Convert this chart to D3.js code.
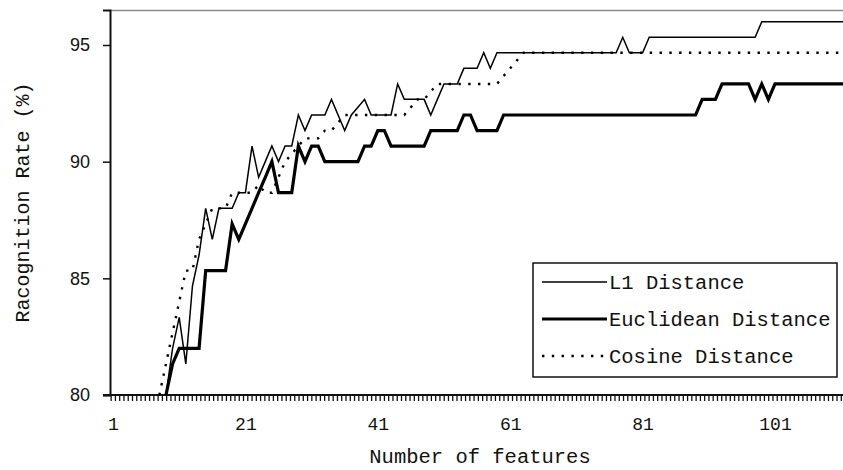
<!DOCTYPE html>
<html lang="en">
<head>
    <meta charset="utf-8">
    <title>Recognition rate vs number of features</title>
    <script type="text/javascript" src="https://d3js.org/d3.v7.min.js"></script>
    <style type="text/css">
        body { margin: 0; background: #fff; }
        .mono { font-family: "Liberation Mono", "DejaVu Sans Mono", monospace; }
    </style>
</head>
<body>
<script type="text/javascript">

    // categories: number of features
    var features = d3.range(8, 113);

    var l1Values = [
        null, 80.0, 82.0, 83.33, 81.33, 84.67, 86.0, 88.0, 86.67, 88.0,
        88.0, 88.0, 88.67, 88.67, 90.67, 89.33, 90.0, 90.67, 90.0, 90.67,
        90.67, 92.0, 91.33, 92.0, 92.0, 92.0, 92.67, 92.0, 91.33, 92.0,
        92.33, 92.67, 92.0, 92.0, 92.0, 92.0, 93.33, 92.67, 92.67, 92.67,
        92.67, 92.0, 92.67, 93.33, 93.33, 93.33, 94.0, 94.0, 94.0, 94.67,
        94.0, 94.67, 94.67, 94.67, 94.67, 94.67, 94.67, 94.67, 94.67, 94.67,
        94.67, 94.67, 94.67, 94.67, 94.67, 94.67, 94.67, 94.67, 94.67, 94.67,
        95.33, 94.67, 94.67, 94.67, 95.33, 95.33, 95.33, 95.33, 95.33, 95.33,
        95.33, 95.33, 95.33, 95.33, 95.33, 95.33, 95.33, 95.33, 95.33, 95.33,
        95.33, 96.0, 96.0, 96.0, 96.0, 96.0, 96.0, 96.0, 96.0, 96.0,
        96.0, 96.0, 96.0, 96.0, 96.0
    ];

    var euclideanValues = [
        null, 80.0, 81.33, 82.0, 82.0, 82.0, 82.0, 85.33, 85.33, 85.33,
        85.33, 87.33, 86.67, 87.33, 88.0, 88.67, 89.33, 90.0, 88.67, 88.67,
        88.67, 90.67, 90.0, 90.67, 90.67, 90.0, 90.0, 90.0, 90.0, 90.0,
        90.0, 90.67, 90.67, 91.33, 91.33, 90.67, 90.67, 90.67, 90.67, 90.67,
        90.67, 91.33, 91.33, 91.33, 91.33, 91.33, 92.0, 92.0, 91.33, 91.33,
        91.33, 91.33, 92.0, 92.0, 92.0, 92.0, 92.0, 92.0, 92.0, 92.0,
        92.0, 92.0, 92.0, 92.0, 92.0, 92.0, 92.0, 92.0, 92.0, 92.0,
        92.0, 92.0, 92.0, 92.0, 92.0, 92.0, 92.0, 92.0, 92.0, 92.0,
        92.0, 92.0, 92.67, 92.67, 92.67, 93.33, 93.33, 93.33, 93.33, 93.33,
        92.67, 93.33, 92.67, 93.33, 93.33, 93.33, 93.33, 93.33, 93.33, 93.33,
        93.33, 93.33, 93.33, 93.33, 93.33
    ];

    var cosineValues = [
        80.0, 81.33, 82.67, 84.0, 85.33, 85.33, 86.67, 87.33, 88.0, 88.0,
        88.0, 88.67, 88.67, 88.67, 88.67, 89.0, 88.67, 88.67, 89.33, 90.0,
        90.33, 90.67, 91.0, 91.0, 91.0, 91.33, 91.33, 91.67, 92.0, 92.0,
        92.0, 92.0, 92.0, 92.0, 92.0, 92.0, 92.0, 92.0, 92.33, 92.67,
        92.67, 93.0, 93.33, 93.33, 93.33, 93.33, 93.33, 93.33, 93.33, 93.33,
        93.33, 93.33, 93.67, 94.0, 94.33, 94.67, 94.67, 94.67, 94.67, 94.67,
        94.67, 94.67, 94.67, 94.67, 94.67, 94.67, 94.67, 94.67, 94.67, 94.67,
        94.67, 94.67, 94.67, 94.67, 94.67, 94.67, 94.67, 94.67, 94.67, 94.67,
        94.67, 94.67, 94.67, 94.67, 94.67, 94.67, 94.67, 94.67, 94.67, 94.67,
        94.67, 94.67, 94.67, 94.67, 94.67, 94.67, 94.67, 94.67, 94.67, 94.67,
        94.67, 94.67, 94.67, 94.67, 94.67
    ];

    var xTickLabels = [1, 21, 41, 61, 81, 101];
    var yTickLabels = [80, 85, 90, 95];
    var seriesNames = ["L1 Distance", "Euclidean Distance", "Cosine Distance"];

    var width = 843, height = 470;
    var plotLeft = 110, plotTop = 10, plotBottom = 395;

    var svg = d3.select("body")
        .append("svg")
        .attr("width", width)
        .attr("height", height);

    var x = d3.scaleLinear().domain([1, 101]).range([113, 775]);
    var y = d3.scaleLinear().domain([80, 96.5]).range([plotBottom, plotTop]);

    svg.append("clipPath")
        .attr("id", "plot-clip")
        .append("rect")
        .attr("x", plotLeft)
        .attr("y", plotTop - 2)
        .attr("width", width - plotLeft)
        .attr("height", plotBottom - plotTop + 2);

    // top frame line
    svg.append("line")
        .attr("x1", plotLeft).attr("x2", width)
        .attr("y1", plotTop + 0.5).attr("y2", plotTop + 0.5)
        .attr("stroke", "#8a8a8a")
        .attr("stroke-width", 1.5);

    // y axis
    var yAxis = d3.axisLeft(y)
        .tickValues(yTickLabels)
        .tickSize(7)
        .tickPadding(13)
        .tickFormat(d3.format("d"));

    var gy = svg.append("g")
        .attr("transform", "translate(" + plotLeft + ",0)")
        .call(yAxis);
    gy.select(".domain").attr("stroke", "#111").attr("stroke-width", 2);
    gy.selectAll(".tick line").attr("stroke", "#111").attr("stroke-width", 1.5);
    gy.selectAll(".tick text")
        .attr("font-family", "Liberation Sans, Arial, sans-serif")
        .attr("font-size", 18)
        .attr("fill", "#111");

    // x axis: labels every 20 features, dense minor ticks
    var xAxis = d3.axisBottom(x)
        .tickValues(xTickLabels)
        .tickSize(0)
        .tickPadding(22)
        .tickFormat(d3.format("d"));

    var gx = svg.append("g")
        .attr("transform", "translate(0," + plotBottom + ")")
        .call(xAxis);
    gx.select(".domain").remove();
    gx.selectAll(".tick text")
        .attr("class", "mono")
        .attr("font-size", 18)
        .attr("fill", "#111");

    var minorTicks = d3.range(0.72, 112, 0.645);
    svg.append("g")
        .selectAll("line")
        .data(minorTicks)
        .enter()
        .append("line")
        .attr("x1", function(d) { return x(d); })
        .attr("x2", function(d) { return x(d); })
        .attr("y1", plotBottom)
        .attr("y2", plotBottom + 6)
        .attr("stroke", "#111")
        .attr("stroke-width", 1.3);

    svg.append("line")
        .attr("x1", plotLeft - 7).attr("x2", width)
        .attr("y1", plotBottom).attr("y2", plotBottom)
        .attr("stroke", "#111")
        .attr("stroke-width", 2);

    // series lines
    var series = [
        { name: seriesNames[0], values: l1Values, width: 1.5, dash: null },
        { name: seriesNames[1], values: euclideanValues, width: 3.2, dash: null },
        { name: seriesNames[2], values: cosineValues, width: 2.4, dash: "2.4,7.4" }
    ];

    var line = d3.line()
        .defined(function(d) { return d.v !== null; })
        .x(function(d) { return x(d.f); })
        .y(function(d) { return y(d.v); });

    var lines = svg.append("g").attr("clip-path", "url(#plot-clip)");

    series.forEach(function(s) {
        var pts = features.map(function(f, i) { return { f: f, v: s.values[i] }; });
        lines.append("path")
            .datum(pts)
            .attr("fill", "none")
            .attr("stroke", "#000")
            .attr("stroke-width", s.width)
            .attr("stroke-linejoin", "miter")
            .attr("stroke-dasharray", s.dash)
            .attr("d", line);
    });

    // axis titles
    svg.append("text")
        .attr("class", "mono")
        .attr("x", 480)
        .attr("y", 463)
        .attr("text-anchor", "middle")
        .attr("font-size", 20.5)
        .attr("fill", "#111")
        .text("Number of features");

    svg.append("text")
        .attr("class", "mono")
        .attr("transform", "translate(29," + y(88.25) + ") rotate(-90)")
        .attr("text-anchor", "middle")
        .attr("font-size", 20)
        .attr("fill", "#111")
        .text("Racognition Rate (%)");

    // legend
    var legend = svg.append("g");
    legend.append("rect")
        .attr("x", 533)
        .attr("y", 263)
        .attr("width", 304)
        .attr("height", 114)
        .attr("fill", "#fff")
        .attr("stroke", "#111")
        .attr("stroke-width", 1.5);

    var rows = legend.selectAll(".row")
        .data(series)
        .enter()
        .append("g")
        .attr("class", "row")
        .attr("transform", function(d, i) {
            return "translate(0," + (282 + i * 37) + ")";
        });

    rows.append("line")
        .attr("x1", 542)
        .attr("x2", 607)
        .attr("stroke", "#000")
        .attr("stroke-width", function(d) { return d.width; })
        .attr("stroke-dasharray", function(d) { return d.dash; });

    rows.append("text")
        .attr("class", "mono")
        .attr("x", 609)
        .attr("y", 7)
        .attr("font-size", 20.5)
        .attr("fill", "#111")
        .text(function(d) { return d.name; });

</script>
</body>
</html>
